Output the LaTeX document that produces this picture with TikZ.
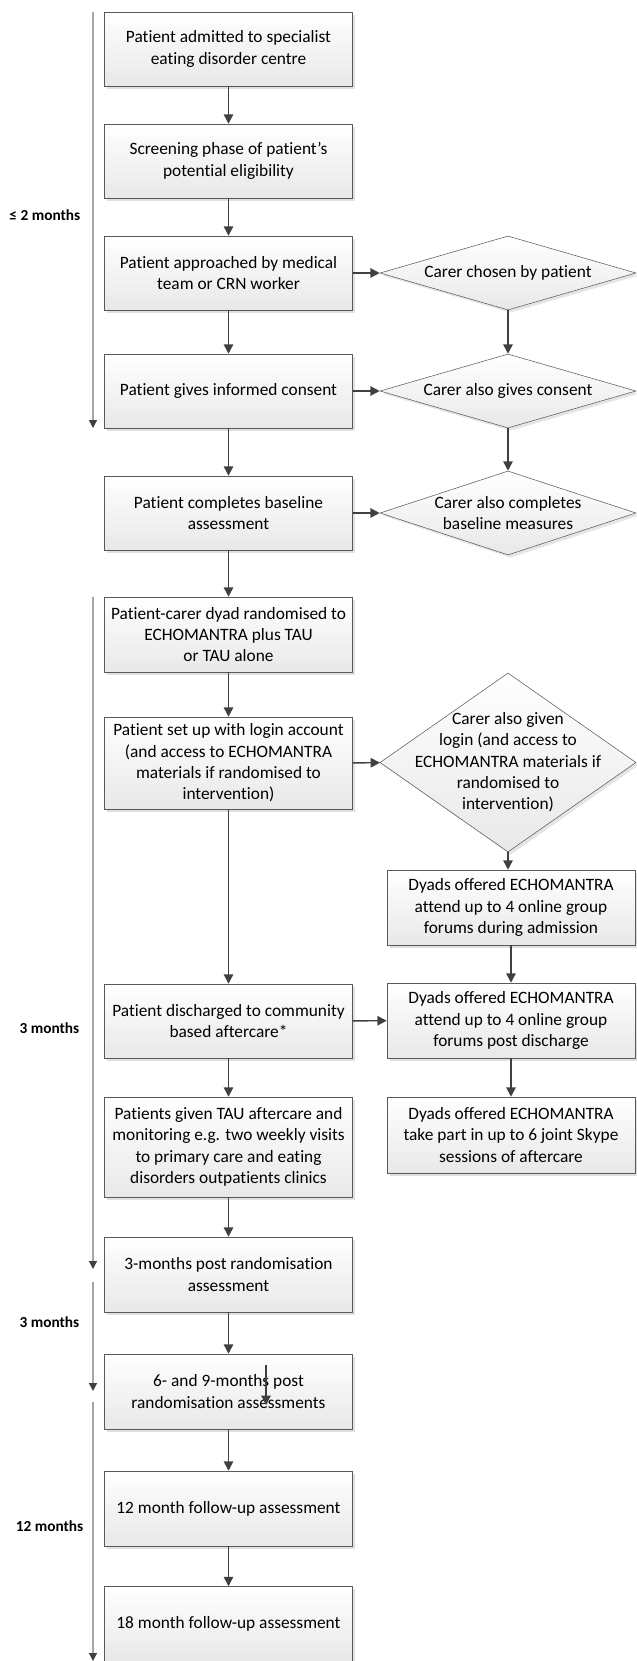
\documentclass[tikz,border=0pt]{standalone}
\usepackage{fontspec}
\setmainfont{Carlito}[Ligatures=NoCommon]
\usetikzlibrary{arrows.meta,shapes.geometric,shadows}
\definecolor{boxline}{HTML}{595959}
\definecolor{linkcol}{HTML}{404040}
\definecolor{timecol}{HTML}{A6A6A6}
\definecolor{boxbottom}{HTML}{E8E8E8}
\begin{document}
\begin{tikzpicture}[x=0.75pt,y=-0.75pt,
    font=\fontsize{13}{16}\selectfont,
    box/.style={draw=boxline, top color=white, bottom color=boxbottom,
        minimum width=186pt, minimum height=55.5pt, inner sep=0pt, align=center,
        drop shadow={shadow xshift=2pt, shadow yshift=-2pt, fill=black, opacity=0.12}},
    choice/.style={diamond, draw=boxline, top color=white, bottom color=boxbottom,
        minimum width=192pt, minimum height=55.5pt, inner sep=0pt,
        drop shadow={shadow xshift=2pt, shadow yshift=-2pt, fill=black, opacity=0.10}},
    link/.style={draw=linkcol, line width=1.1pt, -{Triangle[length=7pt,width=7pt]}},
    timeline/.style={draw=timecol, line width=0.9pt, -{Triangle[length=6pt,width=6pt,color=linkcol]}},
    period/.style={font=\fontsize{11.5}{13}\selectfont\bfseries, anchor=east}]
    \useasboundingbox (0,0) rectangle (636,1661);
    % patient column
    \node[box] (admit) at (228.5,49) {Patient admitted to specialist\\eating disorder centre};
    \node[box] (screen) at (228.5,161) {Screening phase of patient’s\\potential eligibility};
    \node[box] (approach) at (228.5,273) {Patient approached by medical\\team or CRN worker};
    \node[box] (consent) at (228.5,391) {Patient gives informed consent};
    \node[box] (baseline) at (228.5,513) {Patient completes baseline\\assessment};
    \node[box, minimum height=56.25pt] (random) at (228.5,634.5) {Patient-carer dyad randomised to\\ECHOMANTRA plus TAU\\or TAU alone};
    \node[box, minimum height=69pt] (login) at (228.5,763) {Patient set up with login account\\(and access to ECHOMANTRA\\materials if randomised to\\intervention)};
    \node[box] (discharge) at (228.5,1021) {Patient discharged to community\\based aftercare*};
    \node[box, minimum height=75pt] (tau) at (228.5,1147) {Patients given TAU aftercare and\\monitoring e.g. two weekly visits\\to primary care and eating\\disorders outpatients clinics};
    \node[box, minimum height=56.25pt] (post3) at (228.5,1274.5) {3-months post randomisation\\assessment};
    \node[box, minimum height=56.25pt] (post69) at (228.5,1391.5) {6- and 9-months post\\randomisation assessments};
    \node[box, minimum height=56.25pt] (follow12) at (228.5,1508.5) {12 month follow-up assessment};
    \node[box, minimum height=56.25pt] (follow18) at (228.5,1624) {18 month follow-up assessment};
    % carer column
    \node[choice, label=center:{Carer chosen by patient}] (chosen) at (508,273) {};
    \node[choice, label=center:{Carer also gives consent}] (cconsent) at (508,391) {};
    \node[choice, minimum height=63pt, label={[align=center]center:Carer also completes\\baseline measures}] (cbaseline) at (508,513) {};
    \node[choice, minimum height=134.25pt, label={[align=center]center:Carer also given\\login (and access to\\ECHOMANTRA materials if\\randomised to\\intervention)}] (clogin) at (508,762.5) {};
    \node[box, minimum height=56.25pt] (forum1) at (511,907.5) {Dyads offered ECHOMANTRA\\attend up to 4 online group\\forums during admission};
    \node[box, minimum height=56.25pt] (forum2) at (511,1020.5) {Dyads offered ECHOMANTRA\\attend up to 4 online group\\forums post discharge};
    \node[box, minimum height=57pt] (skype) at (511,1135) {Dyads offered ECHOMANTRA\\take part in up to 6 joint Skype\\sessions of aftercare};
    % connectors
    \draw[link] (admit) -- (screen);
    \draw[link] (screen) -- (approach);
    \draw[link] (approach) -- (consent);
    \draw[link] (consent) -- (baseline);
    \draw[link] (baseline) -- (random);
    \draw[link] (random) -- (login);
    \draw[link] (login) -- (discharge);
    \draw[link] (discharge) -- (tau);
    \draw[link] (tau) -- (post3);
    \draw[link] (post3) -- (post69);
    \draw[link] (post69) -- (follow12);
    \draw[link] (follow12) -- (follow18);
    \draw[link] (approach) -- (chosen);
    \draw[link] (consent) -- (cconsent);
    \draw[link] (baseline) -- (cbaseline);
    \draw[link] (login) -- (clogin);
    \draw[link] (discharge) -- (forum2);
    \draw[link] (chosen) -- (cconsent);
    \draw[link] (cconsent) -- (cbaseline);
    \draw[link] (clogin) -- (clogin |- forum1.north);
    \draw[link] (forum1) -- (forum2);
    \draw[link] (forum2) -- (skype);
    % stray arrow inside the 6/9 month box
    \coordinate (straytop) at (266,1365);
    \coordinate (straybot) at (266,1405);
    \draw[link, line width=0.9pt] (straytop) -- (straybot);
    % time line
    \coordinate (t1s) at (93,12);
    \coordinate (t1e) at (93,428);
    \coordinate (t2s) at (93,597);
    \coordinate (t2e) at (93,1269);
    \coordinate (t3s) at (93,1282);
    \coordinate (t3e) at (93,1391);
    \coordinate (t4s) at (93,1402);
    \coordinate (t4e) at (93,1661);
    \draw[timeline] (t1s) -- (t1e);
    \draw[timeline] (t2s) -- (t2e);
    \draw[timeline] (t3s) -- (t3e);
    \draw[timeline] (t4s) -- (t4e);
    \node[period] (span1) at (85,215) {≤ 2 months};
    \node[period] (span2) at (84,1028) {3 months};
    \node[period] (span3) at (84,1322) {3 months};
    \node[period] (span4) at (88,1526) {12 months};
\end{tikzpicture}
\end{document}
